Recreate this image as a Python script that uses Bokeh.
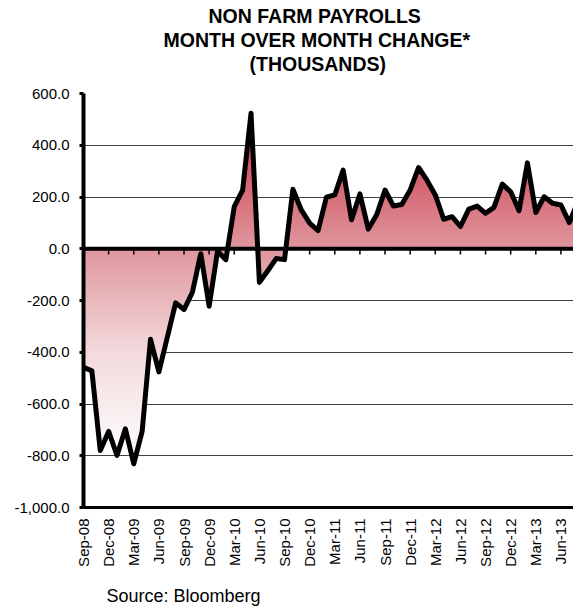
import numpy as np
from bokeh.plotting import figure
from bokeh.models import FixedTicker, NumeralTickFormatter, Span, Title, Range1d
from bokeh.embed import file_html
from bokeh.resources import INLINE

# ---------------- data ----------------
months = ["Sep-08", "Oct-08", "Nov-08", "Dec-08", "Jan-09", "Feb-09", "Mar-09", "Apr-09",
          "May-09", "Jun-09", "Jul-09", "Aug-09", "Sep-09", "Oct-09", "Nov-09", "Dec-09",
          "Jan-10", "Feb-10", "Mar-10", "Apr-10", "May-10", "Jun-10", "Jul-10", "Aug-10",
          "Sep-10", "Oct-10", "Nov-10", "Dec-10", "Jan-11", "Feb-11", "Mar-11", "Apr-11",
          "May-11", "Jun-11", "Jul-11", "Aug-11", "Sep-11", "Oct-11", "Nov-11", "Dec-11",
          "Jan-12", "Feb-12", "Mar-12", "Apr-12", "May-12", "Jun-12", "Jul-12", "Aug-12",
          "Sep-12", "Oct-12", "Nov-12", "Dec-12", "Jan-13", "Feb-13", "Mar-13", "Apr-13",
          "May-13", "Jun-13", "Jul-13", "Aug-13"]
payrolls = [-458, -472, -780, -706, -799, -696, -831, -706,
            -350, -476, -343, -209, -235, -168, -19, -222,
            -10, -42, 163, 227, 524, -130, -85, -38,
            -42, 230, 150, 99, 70, 199, 208, 304,
            112, 212, 76, 131, 227, 165, 171, 227,
            314, 265, 208, 114, 124, 86, 153, 165,
            137, 160, 250, 220, 147, 332, 140, 201,
            176, 169, 101, 180]
tick_labels = ["Sep-08", "Dec-08", "Mar-09", "Jun-09", "Sep-09", "Dec-09", "Mar-10",
               "Jun-10", "Sep-10", "Dec-10", "Mar-11", "Jun-11", "Sep-11", "Dec-11",
               "Mar-12", "Jun-12", "Sep-12", "Dec-12", "Mar-13", "Jun-13"]
y_ticks = [-1000, -800, -600, -400, -200, 0, 200, 400, 600]
title_lines = ["NON FARM PAYROLLS", "MONTH OVER MONTH CHANGE*", "(THOUSANDS)"]
source_note = "Source: Bloomberg"

FONT = "Liberation Sans"

x = np.arange(len(payrolls), dtype=float)
y = np.array(payrolls, dtype=float)
tick_x = [months.index(m) for m in tick_labels]

p = figure(width=573, height=608, output_backend="svg", toolbar_location=None,
           x_range=Range1d(0, 58.5), y_range=Range1d(-1000, 600),
           min_border_left=83, min_border_right=0, min_border_top=93, min_border_bottom=99)
p.outline_line_color = None
p.background_fill_color = "white"
p.border_fill_color = "white"

# ---------------- gradient area (banded) ----------------
step = 12.0
top = np.ceil(y.max() / step) * step
bot = np.floor(y.min() / step) * step
levels = np.arange(bot, top + step / 2, step)

xd = [x[0]]
yd = [y[0]]
for i in range(len(x) - 1):
    y0, y1 = y[i], y[i + 1]
    lo, hi = min(y0, y1), max(y0, y1)
    cross = levels[(levels > lo) & (levels < hi)]
    if len(cross) and y1 != y0:
        ts = np.sort((cross - y0) / (y1 - y0))
        for t in ts:
            xd.append(x[i] + t * (x[i + 1] - x[i]))
            yd.append(y0 + t * (y1 - y0))
    xd.append(x[i + 1])
    yd.append(y1)
xd = np.array(xd)
yd = np.array(yd)

stop_v = [y.min(), -400, 0, 300, y.max()]
stop_rgb = [(255, 255, 255), (243, 218, 220), (223, 150, 157), (211, 92, 106), (199, 62, 78)]


def col(v):
    r = np.interp(v, stop_v, [c[0] for c in stop_rgb])
    g = np.interp(v, stop_v, [c[1] for c in stop_rgb])
    b = np.interp(v, stop_v, [c[2] for c in stop_rgb])
    return "#%02x%02x%02x" % (int(round(r)), int(round(g)), int(round(b)))


for h in levels[levels > 0][::-1]:
    p.varea(x=xd, y1=0, y2=np.clip(yd, 0, h), fill_color=col(h - step / 2))
for l in levels[levels < 0]:
    p.varea(x=xd, y1=np.clip(yd, l, 0), y2=0, fill_color=col(l + step / 2))

# ---------------- grid / zero line ----------------
p.xgrid.visible = False
p.ygrid.ticker = FixedTicker(ticks=y_ticks)
p.ygrid.grid_line_color = "#404040"
p.ygrid.grid_line_width = 1

p.add_layout(Span(location=0, dimension="width", line_color="black", line_width=4))
p.segment(x0=tick_x, y0=0, x1=tick_x, y1=-22, line_color="black", line_width=1.5)

# ---------------- data line ----------------
p.line(x, y, line_color="black", line_width=5, line_join="round")

# ---------------- axes ----------------
p.xaxis.ticker = FixedTicker(ticks=tick_x)
p.xaxis.major_label_overrides = {int(t): lab for t, lab in zip(tick_x, tick_labels)}
p.xaxis.major_label_orientation = np.pi / 2
p.xaxis.axis_line_width = 3
p.xaxis.axis_line_color = "black"
p.xaxis.major_tick_out = 0
p.xaxis.major_tick_in = 0
p.xaxis.minor_tick_out = 0
p.xaxis.minor_tick_in = 0
p.xaxis.major_label_text_font = FONT
p.xaxis.major_label_text_font_size = "15px"
p.xaxis.major_label_text_color = "black"
p.xaxis.major_label_standoff = 11
# source note rendered as the x-axis label; trailing no-break spaces shift it left
p.xaxis.axis_label = source_note + "\u00a0" * 58
p.xaxis.axis_label_align = "center"
p.xaxis.axis_label_standoff = 16
p.xaxis.axis_label_text_font = FONT
p.xaxis.axis_label_text_font_style = "normal"
p.xaxis.axis_label_text_font_size = "18px"
p.xaxis.axis_label_text_color = "black"

p.yaxis.ticker = FixedTicker(ticks=y_ticks)
p.yaxis.formatter = NumeralTickFormatter(format="0,0.0")
p.yaxis.axis_line_width = 4
p.yaxis.axis_line_color = "black"
p.yaxis.major_tick_out = 4
p.yaxis.major_tick_in = 0
p.yaxis.major_tick_line_width = 3
p.yaxis.major_tick_line_color = "black"
p.yaxis.minor_tick_out = 0
p.yaxis.minor_tick_in = 0
p.yaxis.major_label_text_font = FONT
p.yaxis.major_label_text_font_size = "15px"
p.yaxis.major_label_text_color = "black"
p.yaxis.major_label_standoff = 10

# ---------------- titles ----------------
# spacer between the frame and the title block
p.add_layout(Title(text=" ", standoff=16, text_font=FONT, text_font_size="1px"), "above")
# offsets place each line's centre at ~x=320 (frame starts at x=83)
title_offsets = [125, 80, 166]
for txt, off in reversed(list(zip(title_lines, title_offsets))):
    p.add_layout(Title(text=txt, align="left", offset=off, standoff=0, text_font=FONT,
                       text_font_style="bold", text_font_size="19.5px", text_color="black"),
                 "above")

open("out.html", "w").write(file_html(p, INLINE))
